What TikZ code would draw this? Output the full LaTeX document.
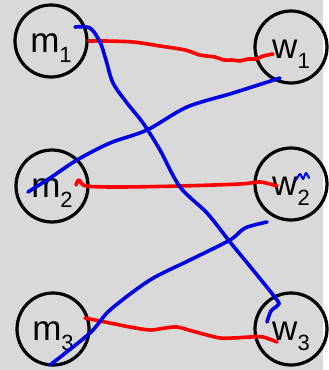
\documentclass[tikz,border=0pt]{standalone}
\usepackage{fontspec}
\setmainfont{Liberation Sans}
\newcommand{\lowidx}[1]{\raisebox{-10pt}{\fontsize{22}{24}\selectfont #1}}
\begin{document}
\begin{tikzpicture}[x=1pt, y=-1pt, line cap=round, line join=round]
	\tikzset{
		person/.style={draw, circle, line width=3.2pt, minimum size=72pt, inner sep=0pt,
			text height=22pt, text depth=0pt, font=\fontsize{35}{40}\selectfont},
		redpen/.style={red, line width=3.6pt},
		bluepen/.style={blue!90!black, line width=3.6pt},
	}
	% nền xám
	\fill[black!15] (0,0) rectangle (323,370);
	
	% các nút
	\node[person] (m1) at (51,41) {m\lowidx{1}};
	\node[person] (w1) at (291,47) {w\lowidx{1}};
	\node[person] (m2) at (52,186) {m\lowidx{2}};
	\node[person] (w2) at (291,184) {w\lowidx{2}};
	\node[person] (m3) at (53,329) {m\lowidx{3}};
	\node[person] (w3) at (291,329) {w\lowidx{3}};
	
	% nét đỏ
	\draw[redpen] plot[smooth, tension=0.5] coordinates {(m1.east) (105,41) (133,42) (160,46) (185,50) (200,55)
		(215,57) (224,60) (232,60) (240,61) (248,59) (256,59) (263,56) ([shift={(-18,7)}]w1.center)};
	\draw[redpen] plot[smooth, tension=0.5] coordinates {([shift={(24,-1)}]m2.center) (79,180) (86,186) (120,187)
		(180,186) (240,184) (260,182) ([shift={(-14,2)}]w2.center)};
	\draw[redpen] plot[smooth, tension=0.5] coordinates {([shift={(32,-11)}]m3.center) (110,323) (130,327) (150,330)
		(165,328) (177,327) (192,331) (207,335) (220,338) (233,338) (250,337) (263,337) ([shift={(-14,13)}]w3.center)};
	
	% nét xanh
	\draw[bluepen] plot[smooth, tension=0.5] coordinates {([shift={(24,-14)}]m1.center) (90,28) (100,42) (106,60)
		(113,83) (127,103) (143,123) (160,150) (180,187) (207,213) (230,242) (253,270) (277,300) (278,305)
		(271,311) ([shift={(-24,-7)}]w3.center)};
	\draw[bluepen] plot[smooth, tension=0.5] coordinates {([shift={(-24,6)}]m2.center) (50,178) (77,160) (110,143)
		(147,130) (187,107) (233,93) ([shift={(-11,31)}]w1.center)};
	\draw[bluepen] plot[smooth, tension=0.5] coordinates {([shift={(-3,36)}]m3.center) (90,333) (110,310) (150,280)
		(190,260) (230,240) (245,228) ([shift={(-24,38)}]w2.center)};
	\draw[bluepen, line width=2pt] plot[smooth, tension=0.4] coordinates {(296,180) (300,174) (303,179) (306,173) (309,178)};
\end{tikzpicture}
\end{document}
